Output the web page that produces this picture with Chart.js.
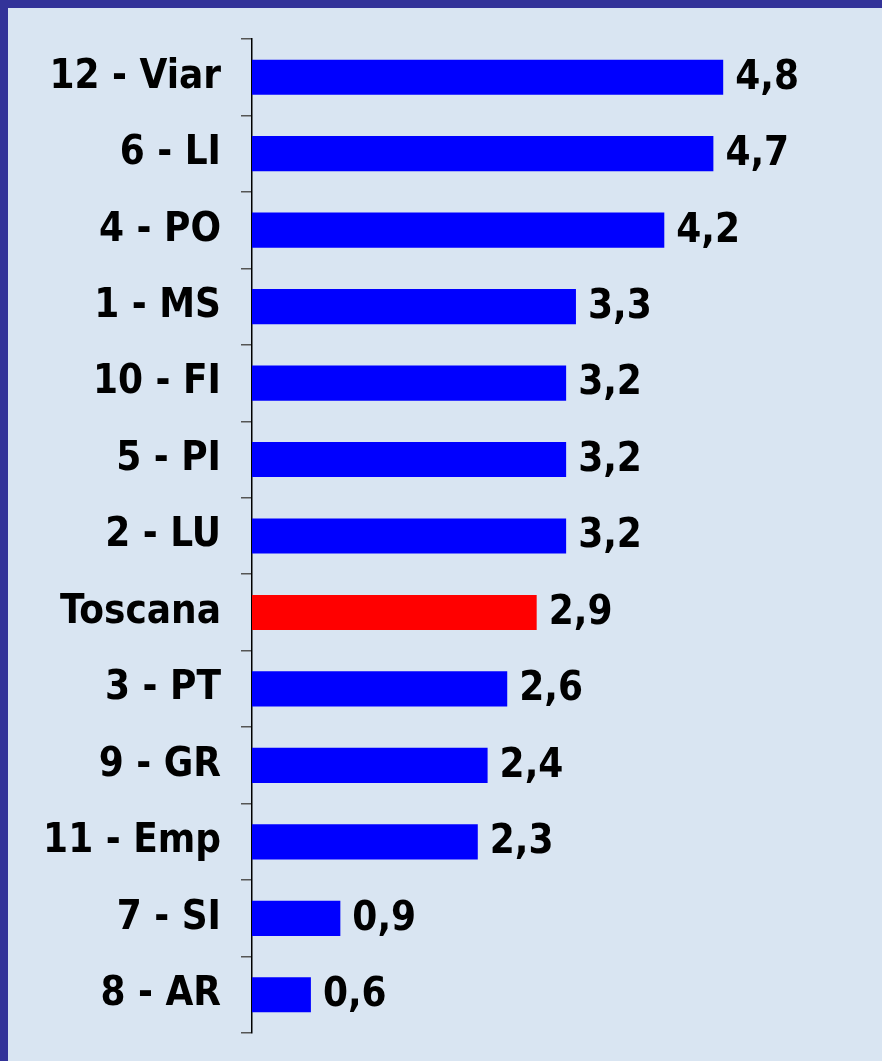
<!DOCTYPE html>
<html>
<head>
<meta charset="utf-8">
<script src="https://cdn.jsdelivr.net/npm/chart.js@4/dist/chart.umd.min.js"></script>
<style>
    html, body {
        margin: 0;
        padding: 0;
        background: #333399;
    }
    .frame {
        position: absolute;
        left: 8px;
        top: 8px;
        width: 874px;
        height: 1053px;
        background: #d9e5f2;
    }
</style>
</head>
<body>
<div class="frame">
    <canvas id="barChart" width="874" height="1053"></canvas>
</div>
<script>
const categories = [
    '12 - Viar',
    '6 - LI',
    '4 - PO',
    '1 - MS',
    '10 - FI',
    '5 - PI',
    '2 - LU',
    'Toscana',
    '3 - PT',
    '9 - GR',
    '11 - Emp',
    '7 - SI',
    '8 - AR',
]
const values = [4.8, 4.7, 4.2, 3.3, 3.2, 3.2, 3.2, 2.9, 2.6, 2.4, 2.3, 0.9, 0.6]

const labelFont = {
    family: "'DejaVu Sans Condensed', 'DejaVu Sans', sans-serif",
    size: 40,
    weight: 'bold',
}

// value labels at the end of each bar, with a comma as decimal sign
const valueLabels = {
    id: 'valueLabels',
    afterDatasetsDraw(chart) {
        const ctx = chart.ctx
        const meta = chart.getDatasetMeta(0)
        ctx.save()
        ctx.font = `${labelFont.weight} ${labelFont.size}px ${labelFont.family}`
        ctx.fillStyle = '#000'
        ctx.textAlign = 'left'
        ctx.textBaseline = 'middle'
        meta.data.forEach((bar, i) => {
            const text = values[i].toFixed(1).replace('.', ',')
            ctx.fillText(text, bar.x + 12, bar.y + 1)
        })
        ctx.restore()
    },
}

const ctx = document.getElementById('barChart').getContext('2d')
new Chart(ctx, {
    type: 'bar',
    data: {
        labels: categories,
        datasets: [
            {
                data: values,
                backgroundColor: categories.map((c) =>
                    c === 'Toscana' ? '#ff0000' : '#0000ff'
                ),
                borderWidth: 0,
                barPercentage: 0.46,
                categoryPercentage: 1,
            },
        ],
    },
    options: {
        indexAxis: 'y',
        responsive: false,
        animation: false,
        layout: {
            padding: { top: 31, bottom: 28, right: 41, left: 0 },
        },
        plugins: {
            legend: { display: false },
            tooltip: { enabled: false },
        },
        scales: {
            x: {
                display: false,
                min: 0,
                max: 6,
            },
            y: {
                afterFit: (scale) => {
                    scale.width = 244
                    scale.paddingTop = 0
                    scale.paddingBottom = 0
                },
                grid: {
                    drawOnChartArea: false,
                    tickLength: 11,
                    color: '#555',
                    lineWidth: 1.5,
                },
                border: {
                    display: true,
                    color: '#000',
                    width: 1.5,
                },
                ticks: {
                    color: '#000',
                    padding: 20,
                    font: labelFont,
                },
            },
        },
    },
    plugins: [valueLabels],
})
</script>
</body>
</html>
